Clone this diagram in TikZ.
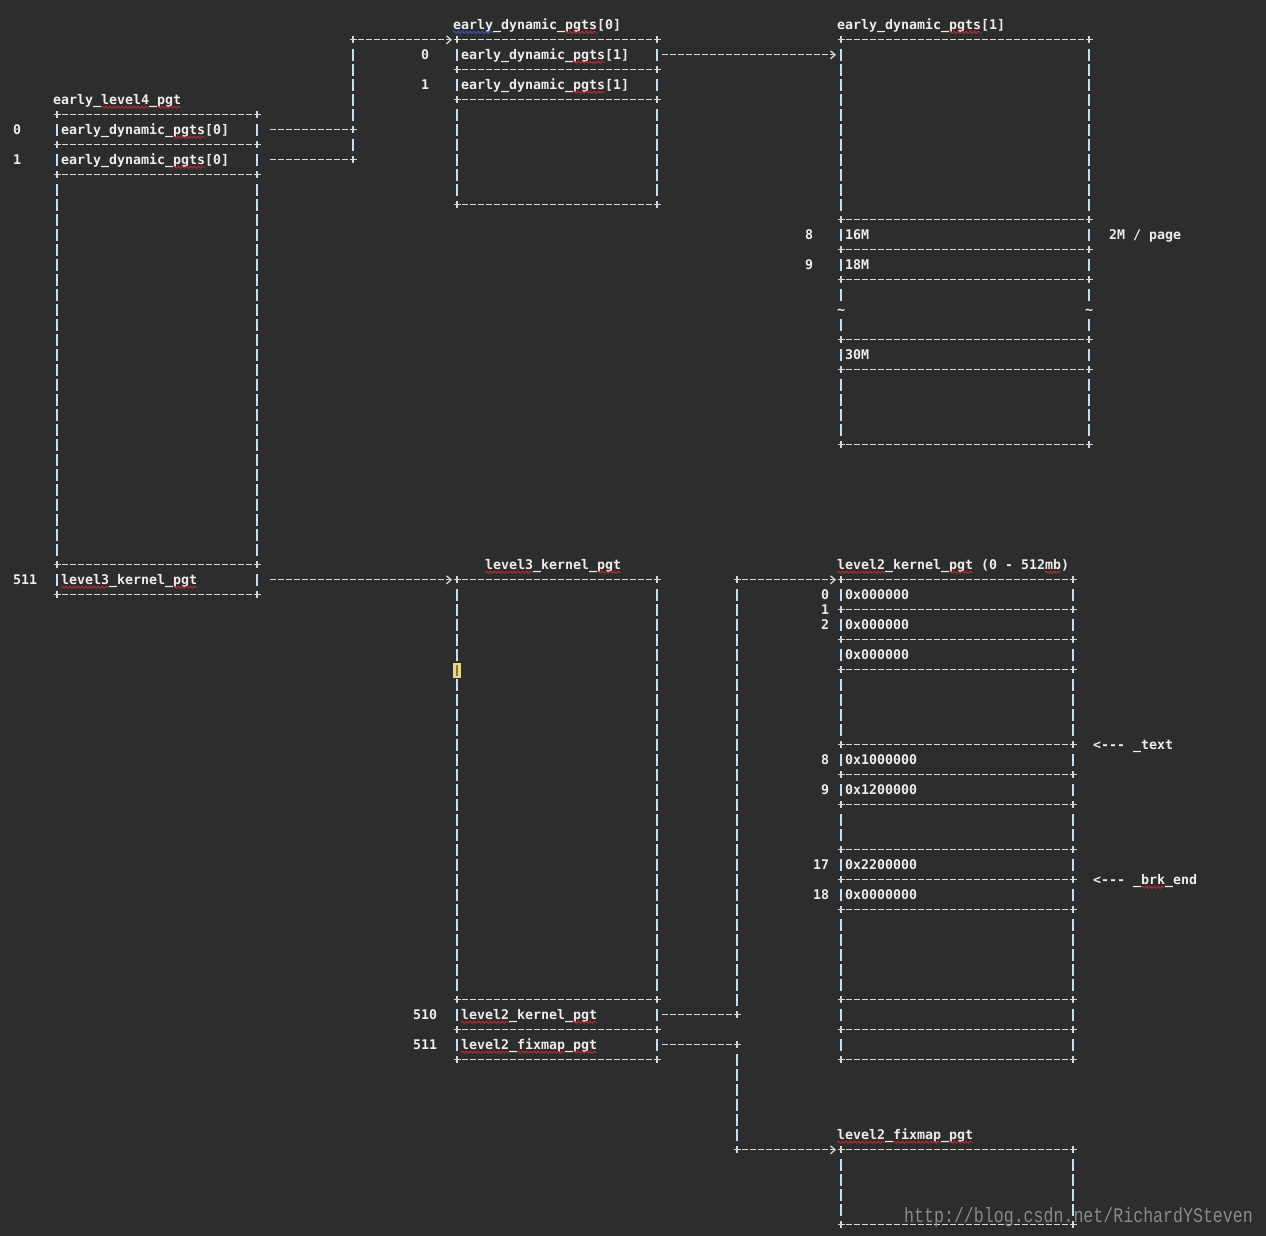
\documentclass[tikz,border=0pt]{standalone}
\usepackage{fontspec}
\setmonofont{DejaVu Sans Mono}
\newfontfamily\wmfont{Liberation Mono}
\usetikzlibrary{arrows.meta,decorations.pathmorphing}
\definecolor{bg}{HTML}{2D2D2D}
\definecolor{txt}{HTML}{EDEDED}
\definecolor{dashc}{HTML}{D8D8D8}
\definecolor{barc}{HTML}{C8DEF4}
\definecolor{sqred}{HTML}{D02838}
\definecolor{sqblue}{HTML}{3858E0}
\definecolor{cursor}{HTML}{EAD77E}
\definecolor{wm}{HTML}{8A8A8A}
\pgfmathdeclarefunction{colx}{1}{\pgfmathparse{17+8*#1}}
\pgfmathdeclarefunction{rowy}{1}{\pgfmathparse{9.8+15*#1}}
\tikzset{
  lbl/.style={anchor=base west, inner sep=0pt, outer sep=0pt, text=txt,
    font=\ttfamily\bfseries\fontsize{13.29}{15}\selectfont},
  dsh/.style={draw=dashc, line width=1.3pt, dash pattern=on 6pt off 2pt},
  pls/.style={draw=dashc, line width=1.3pt},
  bar/.style={draw=barc, line width=1.6pt, dash pattern=on 12pt off 3pt},
  arr/.style={dsh, -{Straight Barb[length=4.5pt,width=8pt]}},
  sqs/.style={draw=sqred, line width=0.8pt, decorate,
    decoration={snake, amplitude=1.1pt, segment length=4pt}},
  sqb/.style={sqs, draw=sqblue},
}
% text node: name, column, row, text
\newcommand\mytxt[4]{\node[lbl] (#1) at ({colx(#2)-4},{rowy(#3)+4.7}) {#4};}
% plus sign at column, row
\newcommand\pl[2]{\draw[pls] ({colx(#1)-3.5},{rowy(#2)}) -- ({colx(#1)+3.5},{rowy(#2)})
   ({colx(#1)},{rowy(#2)-3.5}) -- ({colx(#1)},{rowy(#2)+3.5});}
% separator +----+ : c1, c2, row
\newcommand\hsep[3]{\pl{#1}{#3}\pl{#2}{#3}%
  \draw[dsh] ({colx(#1+1)-3},{rowy(#3)}) -- ({colx(#2-1)+3},{rowy(#3)});}
% vertical bars: col, r1, r2
\newcommand\vbar[3]{\draw[bar] ({colx(#1)},{rowy(#2)-6}) -- ({colx(#1)},{rowy(#3)+6});}
\newcommand\sides[4]{\vbar{#1}{#3}{#4}\vbar{#2}{#3}{#4}}
% squiggle: c1, c2, row
\newcommand\sq[3]{\draw[sqs] ({colx(#1)-4},{rowy(#3)+7.5}) -- ({colx(#2)+4},{rowy(#3)+7.5});}
\begin{document}
\begin{tikzpicture}[x=1pt,y=-1pt]
\fill[bg] (0,0) rectangle (1266,1236);
\useasboundingbox (0,0) rectangle (1266,1236);

% ---------------- early_level4_pgt (cols 5..30)
\hsep{5}{30}{7}
\sides{5}{30}{8}{8}
\hsep{5}{30}{9}
\sides{5}{30}{10}{10}
\hsep{5}{30}{11}
\sides{5}{30}{12}{36}
\hsep{5}{30}{37}
\sides{5}{30}{38}{38}
\hsep{5}{30}{39}

% ---------------- early_dynamic_pgts[0] (cols 55..80)
\hsep{55}{80}{2}
\sides{55}{80}{3}{3}
\hsep{55}{80}{4}
\sides{55}{80}{5}{5}
\hsep{55}{80}{6}
\sides{55}{80}{7}{12}
\hsep{55}{80}{13}

% ---------------- early_dynamic_pgts[1] (cols 103..134)
\hsep{103}{134}{2}
\sides{103}{134}{3}{13}
\hsep{103}{134}{14}
\sides{103}{134}{15}{15}
\hsep{103}{134}{16}
\sides{103}{134}{17}{17}
\hsep{103}{134}{18}
\sides{103}{134}{19}{19}
\sides{103}{134}{21}{21}
\hsep{103}{134}{22}
\sides{103}{134}{23}{23}
\hsep{103}{134}{24}
\sides{103}{134}{25}{28}
\hsep{103}{134}{29}

% ---------------- level3_kernel_pgt (cols 55..80)
\hsep{55}{80}{38}
\sides{55}{80}{39}{65}
\hsep{55}{80}{66}
\sides{55}{80}{67}{67}
\hsep{55}{80}{68}
\sides{55}{80}{69}{69}
\hsep{55}{80}{70}

% ---------------- level2_kernel_pgt (cols 103..132)
\hsep{103}{132}{38}
\sides{103}{132}{39}{39}
\hsep{103}{132}{40}
\sides{103}{132}{41}{41}
\hsep{103}{132}{42}
\sides{103}{132}{43}{43}
\hsep{103}{132}{44}
\sides{103}{132}{45}{48}
\hsep{103}{132}{49}
\sides{103}{132}{50}{50}
\hsep{103}{132}{51}
\sides{103}{132}{52}{52}
\hsep{103}{132}{53}
\sides{103}{132}{54}{55}
\hsep{103}{132}{56}
\sides{103}{132}{57}{57}
\hsep{103}{132}{58}
\sides{103}{132}{59}{59}
\hsep{103}{132}{60}
\sides{103}{132}{61}{65}
\hsep{103}{132}{66}
\sides{103}{132}{67}{67}
\hsep{103}{132}{68}
\sides{103}{132}{69}{69}
\hsep{103}{132}{70}

% ---------------- level2_fixmap_pgt (cols 103..132)
\hsep{103}{132}{76}
\sides{103}{132}{77}{80}
\hsep{103}{132}{81}

% ---------------- connectors
\coordinate (a0) at ({colx(32)-3},{rowy(8)});
\coordinate (a0j) at ({colx(41)+3},{rowy(8)});
\coordinate (a1) at ({colx(32)-3},{rowy(10)});
\coordinate (a1j) at ({colx(41)+3},{rowy(10)});
\draw[dsh] (a0) -- (a0j);
\draw[dsh] (a1) -- (a1j);
\pl{42}{8}\pl{42}{10}\pl{42}{2}
\vbar{42}{3}{7}\vbar{42}{9}{9}
\coordinate (a2) at ({colx(43)-3},{rowy(2)});
\coordinate (ed0top) at ({colx(54)+3},{rowy(2)});
\draw[arr] (a2) -- (ed0top);

\coordinate (b0) at ({colx(81)-3},{rowy(3)});
\coordinate (ed1top) at ({colx(102)+3},{rowy(3)});
\draw[arr] (b0) -- (ed1top);

\coordinate (c0) at ({colx(32)-3},{rowy(38)});
\coordinate (l3top) at ({colx(54)+3},{rowy(38)});
\draw[arr] (c0) -- (l3top);

\coordinate (d0) at ({colx(81)-3},{rowy(67)});
\coordinate (d0j) at ({colx(89)+3},{rowy(67)});
\coordinate (d1) at ({colx(81)-3},{rowy(69)});
\coordinate (d1j) at ({colx(89)+3},{rowy(69)});
\draw[dsh] (d0) -- (d0j);
\draw[dsh] (d1) -- (d1j);
\pl{90}{67}\pl{90}{69}\pl{90}{38}\pl{90}{76}
\vbar{90}{39}{66}
\vbar{90}{70}{75}
\coordinate (d2) at ({colx(91)-3},{rowy(38)});
\coordinate (l2ktop) at ({colx(102)+3},{rowy(38)});
\draw[arr] (d2) -- (l2ktop);
\coordinate (d3) at ({colx(91)-3},{rowy(76)});
\coordinate (l2ftop) at ({colx(102)+3},{rowy(76)});
\draw[arr] (d3) -- (l2ftop);

% cursor highlight
\fill[cursor] (453,663) rectangle (461,678);
\draw[draw=black!45!cursor, line width=1.4pt] (457,665) -- (457,676);

% ---------------- texts
\mytxt{h1}{55}{1}{early\_dynamic\_pgts[0]}
\mytxt{h2}{103}{1}{early\_dynamic\_pgts[1]}
\mytxt{n1}{51}{3}{0}
\mytxt{e1}{56}{3}{early\_dynamic\_pgts[1]}
\mytxt{n2}{51}{5}{1}
\mytxt{e2}{56}{5}{early\_dynamic\_pgts[1]}
\mytxt{h3}{5}{6}{early\_level4\_pgt}
\mytxt{n3}{0}{8}{0}
\mytxt{e3}{6}{8}{early\_dynamic\_pgts[0]}
\mytxt{n4}{0}{10}{1}
\mytxt{e4}{6}{10}{early\_dynamic\_pgts[0]}
\mytxt{n5}{99}{15}{8}
\mytxt{e5}{104}{15}{16M}
\mytxt{note1}{137}{15}{2M / page}
\mytxt{n6}{99}{17}{9}
\mytxt{e6}{104}{17}{18M}
\mytxt{t1}{103}{20}{\textasciitilde}
\mytxt{t2}{134}{20}{\textasciitilde}
\mytxt{e7}{104}{23}{30M}
\mytxt{h4}{59}{37}{level3\_kernel\_pgt}
\mytxt{h5}{103}{37}{level2\_kernel\_pgt (0 - 512mb)}
\mytxt{n7}{0}{38}{511}
\mytxt{e8}{6}{38}{level3\_kernel\_pgt}
\mytxt{n8}{101}{39}{0}
\mytxt{e9}{104}{39}{0x000000}
\mytxt{n9}{101}{40}{1}
\mytxt{n10}{101}{41}{2}
\mytxt{e10}{104}{41}{0x000000}
\mytxt{e11}{104}{43}{0x000000}
\mytxt{note2}{135}{49}{<--- \_text}
\mytxt{n11}{101}{50}{8}
\mytxt{e12}{104}{50}{0x1000000}
\mytxt{n12}{101}{52}{9}
\mytxt{e13}{104}{52}{0x1200000}
\mytxt{n13}{100}{57}{17}
\mytxt{e14}{104}{57}{0x2200000}
\mytxt{note3}{135}{58}{<--- \_brk\_end}
\mytxt{n14}{100}{59}{18}
\mytxt{e15}{104}{59}{0x0000000}
\mytxt{n15}{50}{67}{510}
\mytxt{e16}{56}{67}{level2\_kernel\_pgt}
\mytxt{n16}{50}{69}{511}
\mytxt{e17}{56}{69}{level2\_fixmap\_pgt}
\mytxt{h6}{103}{75}{level2\_fixmap\_pgt}

% ---------------- spell-check squiggles
\draw[sqb] ({colx(55)-4},{rowy(1)+7.5}) -- ({colx(59)+4},{rowy(1)+7.5});
\sq{69}{72}{1}
\sq{117}{120}{1}
\sq{70}{73}{3}\sq{70}{73}{5}
\sq{11}{16}{6}\sq{18}{20}{6}
\sq{20}{23}{8}\sq{20}{23}{10}
\sq{6}{11}{38}\sq{20}{22}{38}
\sq{59}{64}{37}\sq{73}{75}{37}
\sq{103}{108}{37}\sq{117}{119}{37}\sq{129}{130}{37}
\sq{56}{61}{67}\sq{70}{72}{67}
\sq{56}{61}{69}\sq{63}{68}{69}\sq{70}{72}{69}
\sq{103}{108}{75}\sq{110}{115}{75}\sq{117}{119}{75}
\sq{141}{143}{58}

% ---------------- watermark
\node[anchor=base west, inner sep=0pt, text=wm, font=\wmfont\fontsize{16.6}{18}\selectfont]
  (wmark) at (904,1222) {\scalebox{1}[1.25]{http://blog.csdn.net/RichardYSteven}};
\end{tikzpicture}
\end{document}
